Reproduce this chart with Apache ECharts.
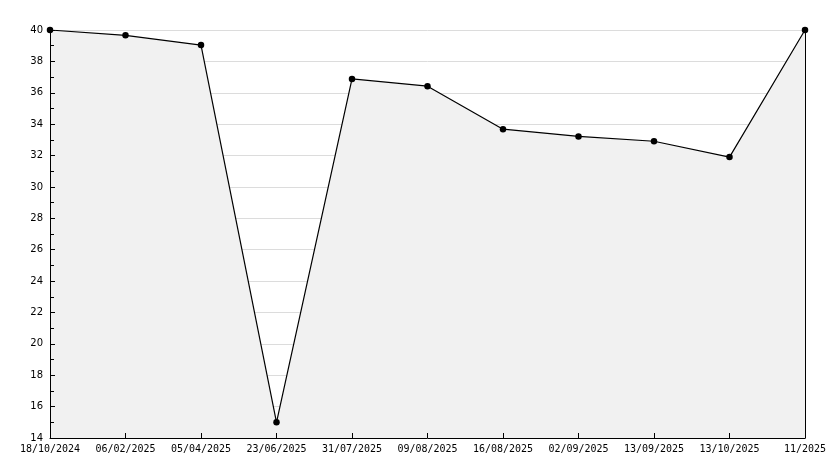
<!DOCTYPE html>
<html>
<head>
<meta charset="utf-8">
<script src="https://cdn.jsdelivr.net/npm/echarts@6/dist/echarts.min.js"></script>
<style>html,body{margin:0;padding:0;background:#fff}#c{width:834px;height:468px}</style>
</head>
<body>
<div id="c"></div>
<script>
const categories = ["18/10/2024","06/02/2025","05/04/2025","23/06/2025","31/07/2025","09/08/2025","16/08/2025","02/09/2025","13/09/2025","13/10/2025","11/2025"];
const values = [40, 39.66, 39.04, 15.0, 36.88, 36.42, 33.68, 33.22, 32.91, 31.9, 40];
const yMin = 14, yMax = 40, yStep = 2;

const chart = echarts.init(document.getElementById('c'), null, {renderer: 'canvas'});
const font = {fontFamily: 'DejaVu Sans Mono', fontSize: 10, color: '#000'};
chart.setOption({
  animation: false,
  backgroundColor: '#fff',
  grid: {left: 50, right: 29, top: 30, bottom: 30, containLabel: false},
  xAxis: {
    type: 'category', data: categories, boundaryGap: false, z: 5,
    axisLine: {show: true, lineStyle: {color: '#000', width: 1}},
    axisTick: {show: true, inside: true, length: 5, alignWithLabel: true, lineStyle: {color: '#000'}},
    axisLabel: Object.assign({margin: 6, interval: 0, showMinLabel: true, showMaxLabel: true}, font),
    splitLine: {show: false}
  },
  yAxis: [{
    type: 'value', min: yMin, max: yMax, interval: yStep,
    axisLine: {show: false},
    axisTick: {show: false},
    axisLabel: Object.assign({margin: 7}, font, {fontFamily: 'DejaVu Sans'}),
    splitLine: {show: true, lineStyle: {color: '#dcdcdc', width: 1}}
  }, {
    type: 'value', min: yMin, max: yMax, interval: yStep, position: 'right', z: 5,
    axisLine: {show: true, lineStyle: {color: '#000', width: 1}},
    axisTick: {show: false}, axisLabel: {show: false}, splitLine: {show: false}
  }, {
    type: 'value', min: yMin, max: yMax, interval: yStep, position: 'left', offset: 0, z: 5,
    axisLine: {show: true, lineStyle: {color: '#000', width: 1}},
    axisTick: {show: true, inside: true, length: 5, lineStyle: {color: '#000'}},
    minorTick: {show: true, splitNumber: 2, length: 4, lineStyle: {color: '#000'}},
    axisLabel: {show: false}, splitLine: {show: false}
  }],
  series: [{
    type: 'line', data: values,
    lineStyle: {color: '#000', width: 1.2},
    itemStyle: {color: '#000'},
    symbol: 'circle', symbolSize: 6.5, showAllSymbol: true,
    areaStyle: {color: '#f1f1f1', opacity: 1}
  }]
});
</script>
</body>
</html>
